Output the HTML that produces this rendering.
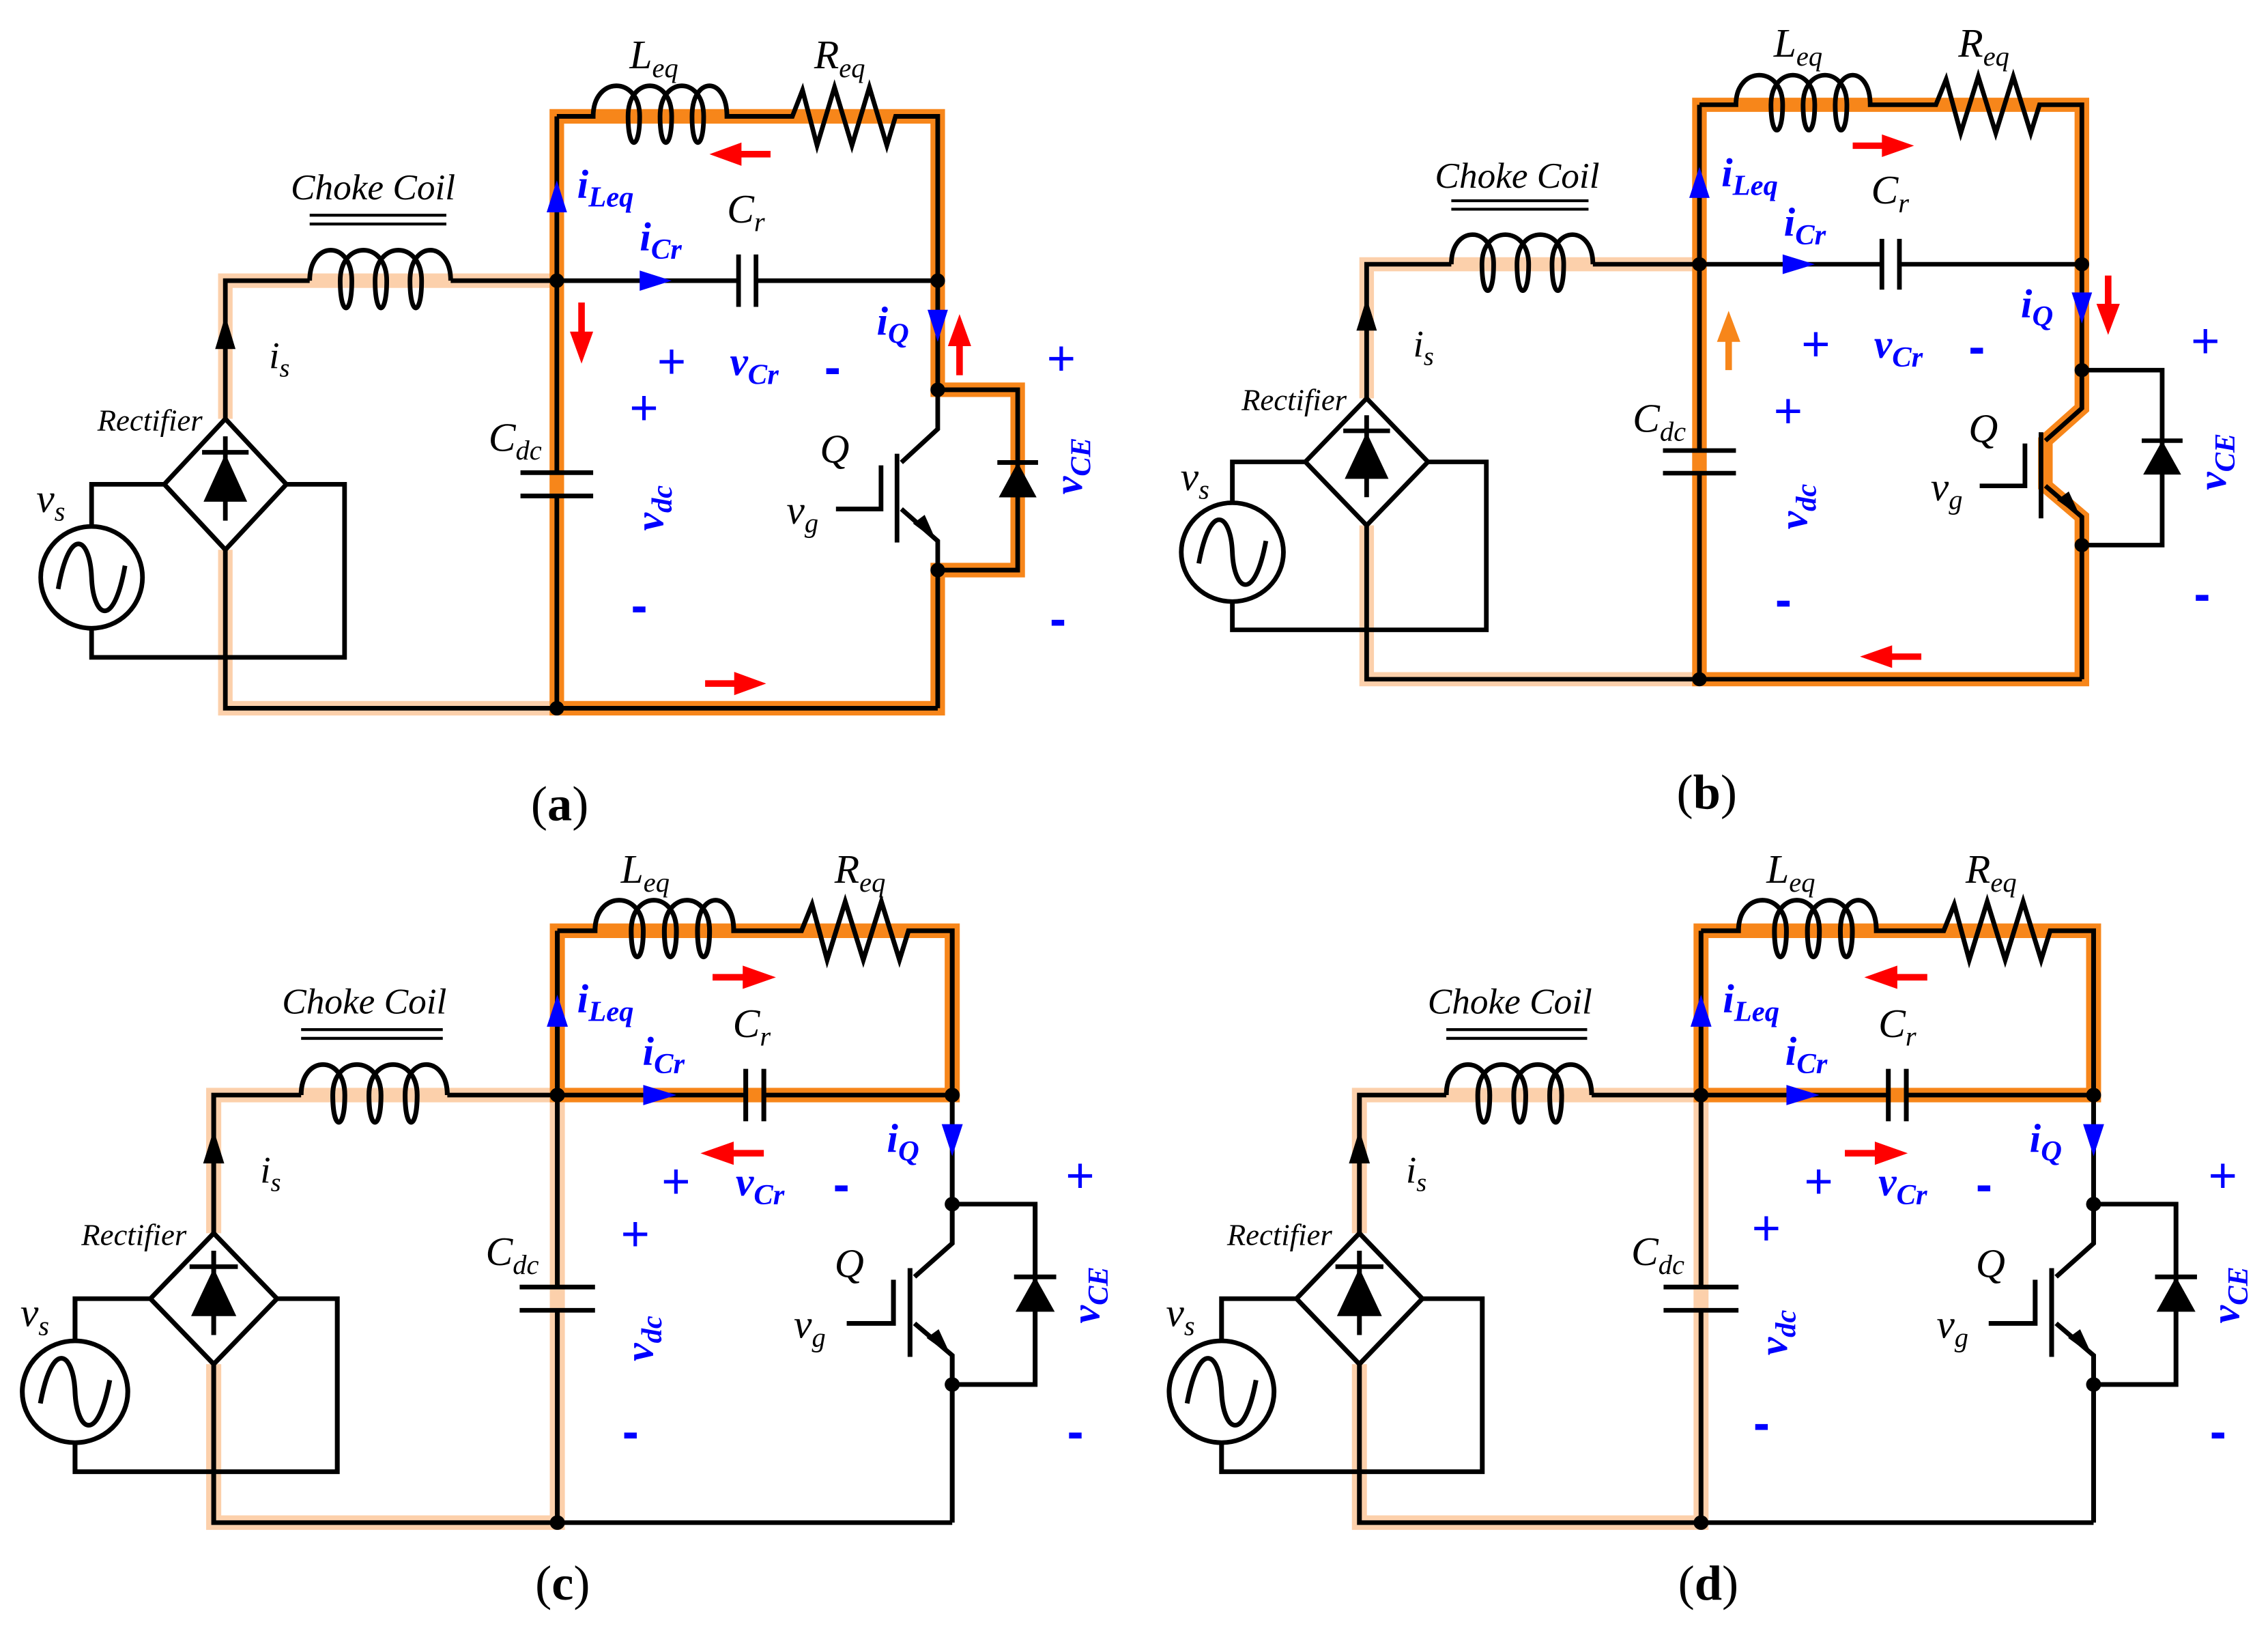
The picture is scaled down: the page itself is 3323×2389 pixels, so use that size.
<!DOCTYPE html>
<html><head><meta charset="utf-8"><style>
html,body{margin:0;padding:0;background:#fff;}
svg{display:block}
text{font-family:"Liberation Serif",serif;}
.it{font-style:italic;fill:#000;}
.bl{font-style:italic;font-weight:bold;fill:#0000ff;}
.pm{font-family:"Liberation Sans",sans-serif;fill:#0000ff;font-size:34px;}
.mn{font-family:"Liberation Sans",sans-serif;fill:#0000ff;font-size:34px;font-weight:bold;}
</style></head><body>
<svg width="3323" height="2389" viewBox="0 0 1560 1121.5" xmlns="http://www.w3.org/2000/svg">
<defs>
<g id="base" fill="none" stroke="#000" stroke-width="3.2" stroke-linejoin="miter">
  <path d="M155,288 V193 H213"/>
  <path d="M213,193 C213,165 242,165 242,193 C242,218 234,218 234,193 C234,165 266,165 266,193 C266,218 258,218 258,193 C258,165 290,165 290,193 C290,218 282,218 282,193 C282,165 310,165 310,193"/>
  <path d="M310,193 H508 M520,193 H645"/>
  <path d="M213,148 H307 M213,154 H307" stroke-width="2"/>
  <path d="M155,378 V487 H645"/>
  <circle cx="63" cy="397" r="35"/>
  <path d="M40,405 C48,360 62,370 63,397 C64,424 78,434 86,389"/>
  <path d="M63,362 V333 H113 M63,432 V452 H237 V333 H197"/>
  <path d="M155,288 L197,333 L155,378 L113,333 Z"/>
  <path d="M155,300 V358 M139,311 H171"/>
  <path d="M383,80 V325 M383,341 V487 M358,325 H408 M358,341 H408"/>
  <path d="M383,80 H408 C408,52 440,52 440,80 C440,104 432,104 432,80 C432,52 462,52 462,80 C462,104 454,104 454,80 C454,52 484,52 484,80 C484,104 476,104 476,80 C476,52 500,52 500,80 H545 L552,62 L562,100 L574,60 L586,100 L598,60 L610,100 L616,80 H645 V295 L620,318"/>
  <path d="M508,175 V211 M520,175 V211"/>
  <path d="M617,312 V373 M575,350 H606 V320 M620,350 L645,372 V487"/>
  <path d="M645,268 H700 V392 H645 M686,318 H714"/>
</g>
<g id="basefill">
  <polygon points="155,312 140,345 170,345" fill="#000"/>
  <polygon points="700,318 687,342 713,342" fill="#000"/>
  <polygon points="644,372 628,360 636,354" fill="#000"/>
  <polygon points="155,217 148,240 162,240" fill="#000"/>
  <circle cx="383" cy="193" r="5" fill="#000"/>
  <circle cx="645" cy="193" r="5" fill="#000"/>
  <circle cx="383" cy="487" r="5" fill="#000"/>
  <circle cx="645" cy="268" r="5" fill="#000"/>
  <circle cx="645" cy="392" r="5" fill="#000"/>
  <polygon points="383,124 376,146 390,146" fill="#0000ff"/>
  <polygon points="462,193 440,186 440,200" fill="#0000ff"/>
  <polygon points="645,235 638,213 652,213" fill="#0000ff"/>
</g>
<g id="ra"><path d="M-20,0 H2" stroke="#ff0000" stroke-width="4.5" fill="none"/><polygon points="0,-8 22,0 0,8" fill="#ff0000"/></g>
</defs>

<!-- (a) -->
<g>
  <path d="M155,288 V193 H383 M155,378 V487 H383" stroke="#fcd0ab" stroke-width="10" fill="none"/>
  <path d="M383,487 V80 H645 V268 H700 V392 H645 V487 Z" stroke="#f7861a" stroke-width="10" fill="none"/>
  <use href="#base"/><use href="#basefill"/>
  <use href="#ra" transform="translate(510,106) rotate(180)"/>
  <use href="#ra" transform="translate(400,228) rotate(90)"/>
  <use href="#ra" transform="translate(660,238) rotate(-90)"/>
  <use href="#ra" transform="translate(505,470)"/>
</g>
<g>
  <text class="it" x="433" y="47" font-size="28">L<tspan font-size="19" dy="6">eq</tspan></text>
  <text class="it" x="560" y="47" font-size="28">R<tspan font-size="19" dy="6">eq</tspan></text>
  <text class="it" x="200" y="137" font-size="25">Choke Coil</text>
  <text class="it" x="185" y="253" font-size="26">i<tspan font-size="18" dy="6">s</tspan></text>
  <text class="it" x="67" y="296" font-size="21">Rectifier</text>
  <text class="it" x="25" y="352" font-size="28">v<tspan font-size="19" dy="6">s</tspan></text>
  <text class="it" x="336" y="310" font-size="28">C<tspan font-size="19" dy="6">dc</tspan></text>
  <text class="it" x="500" y="153" font-size="28">C<tspan font-size="19" dy="6">r</tspan></text>
  <text class="it" x="564" y="318" font-size="28">Q</text>
  <text class="it" x="541" y="360" font-size="28">v<tspan font-size="19" dy="6">g</tspan></text>
  <text class="bl" x="397" y="136" font-size="28">i<tspan font-size="20" dy="6">Leq</tspan></text>
  <text class="bl" x="440" y="172" font-size="28">i<tspan font-size="20" dy="6">Cr</tspan></text>
  <text class="bl" x="603" y="230" font-size="28">i<tspan font-size="20" dy="6">Q</tspan></text>
  <text class="bl" x="502" y="258" font-size="28">v<tspan font-size="20" dy="6">Cr</tspan></text>
  <text class="pm" x="452" y="260">+</text><text class="mn" x="567" y="264">-</text>
  <text class="pm" x="433" y="292">+</text><text class="mn" x="434" y="428">-</text>
  <text class="pm" x="720" y="258">+</text><text class="mn" x="722" y="437">-</text>
  <text class="bl" font-size="28" transform="translate(456,365) rotate(-90)">v<tspan font-size="20" dy="6">dc</tspan></text>
  <text class="bl" font-size="28" transform="translate(744,340) rotate(-90)">v<tspan font-size="20" dy="6">CE</tspan></text>
  <text x="385" y="564" font-size="34" text-anchor="middle">(<tspan font-weight="bold">a</tspan>)</text>
</g>

<!-- (b) -->
<g transform="matrix(1.004,0,0,0.9705,784.4,-5.6)">
  <path d="M155,288 V193 H383 M155,378 V487 H383" stroke="#fcd0ab" stroke-width="10" fill="none"/>
  <path d="M383,487 V80 H645 V295 L620,318 V350 L645,372 V487 Z" stroke="#f7861a" stroke-width="10" fill="none"/>
  <use href="#base"/><use href="#basefill"/>
  <use href="#ra" transform="translate(508,109)"/>
  <g transform="translate(403,248) rotate(-90)"><path d="M-20,0 H2" stroke="#f7861a" stroke-width="4.5"/><polygon points="0,-8 22,0 0,8" fill="#f7861a"/></g>
  <use href="#ra" transform="translate(663,221) rotate(90)"/>
  <use href="#ra" transform="translate(515,471) rotate(180)"/>
</g>
<g transform="translate(787,-8)">
  <text class="it" x="433" y="47" font-size="28">L<tspan font-size="19" dy="6">eq</tspan></text>
  <text class="it" x="560" y="47" font-size="28">R<tspan font-size="19" dy="6">eq</tspan></text>
  <text class="it" x="200" y="137" font-size="25">Choke Coil</text>
  <text class="it" x="185" y="253" font-size="26">i<tspan font-size="18" dy="6">s</tspan></text>
  <text class="it" x="67" y="290" font-size="21">Rectifier</text>
  <text class="it" x="25" y="345" font-size="28">v<tspan font-size="19" dy="6">s</tspan></text>
  <text class="it" x="336" y="305" font-size="28">C<tspan font-size="19" dy="6">dc</tspan></text>
  <text class="it" x="500" y="148" font-size="28">C<tspan font-size="19" dy="6">r</tspan></text>
  <text class="it" x="567" y="312" font-size="28">Q</text>
  <text class="it" x="541" y="352" font-size="28">v<tspan font-size="19" dy="6">g</tspan></text>
  <text class="bl" x="397" y="136" font-size="28">i<tspan font-size="20" dy="6">Leq</tspan></text>
  <text class="bl" x="440" y="170" font-size="28">i<tspan font-size="20" dy="6">Cr</tspan></text>
  <text class="bl" x="603" y="226" font-size="28">i<tspan font-size="20" dy="6">Q</tspan></text>
  <text class="bl" x="502" y="254" font-size="28">v<tspan font-size="20" dy="6">Cr</tspan></text>
  <text class="pm" x="452" y="256">+</text><text class="mn" x="567" y="258">-</text>
  <text class="pm" x="433" y="302">+</text><text class="mn" x="434" y="432">-</text>
  <text class="pm" x="720" y="254">+</text><text class="mn" x="722" y="428">-</text>
  <text class="bl" font-size="28" transform="translate(456,372) rotate(-90)">v<tspan font-size="20" dy="6">dc</tspan></text>
  <text class="bl" font-size="28" transform="translate(744,345) rotate(-90)">v<tspan font-size="20" dy="6">CE</tspan></text>
  <text x="387" y="564" font-size="34" text-anchor="middle">(<tspan font-weight="bold">b</tspan>)</text>
</g>

<!-- (c) -->
<g transform="matrix(1.0367,0,0,1,-13.7,560)">
  <path d="M155,288 V193 H383 V487 H155 V378" stroke="#fcd0ab" stroke-width="10" fill="none"/>
  <path d="M383,193 V80 H645 V193 Z" stroke="#f7861a" stroke-width="10" fill="none"/>
  <use href="#base"/><use href="#basefill"/>
  <use href="#ra" transform="translate(506,112)"/>
  <use href="#ra" transform="translate(500,233) rotate(180)"/>
</g>
<g transform="translate(-6,560)">
  <text class="it" x="433" y="47" font-size="28">L<tspan font-size="19" dy="6">eq</tspan></text>
  <text class="it" x="580" y="47" font-size="28">R<tspan font-size="19" dy="6">eq</tspan></text>
  <text class="it" x="200" y="137" font-size="25">Choke Coil</text>
  <text class="it" x="185" y="253" font-size="26">i<tspan font-size="18" dy="6">s</tspan></text>
  <text class="it" x="62" y="296" font-size="21">Rectifier</text>
  <text class="it" x="20" y="352" font-size="28">v<tspan font-size="19" dy="6">s</tspan></text>
  <text class="it" x="340" y="310" font-size="28">C<tspan font-size="19" dy="6">dc</tspan></text>
  <text class="it" x="510" y="153" font-size="28">C<tspan font-size="19" dy="6">r</tspan></text>
  <text class="it" x="580" y="318" font-size="28">Q</text>
  <text class="it" x="552" y="360" font-size="28">v<tspan font-size="19" dy="6">g</tspan></text>
  <text class="bl" x="403" y="136" font-size="28">i<tspan font-size="20" dy="6">Leq</tspan></text>
  <text class="bl" x="448" y="172" font-size="28">i<tspan font-size="20" dy="6">Cr</tspan></text>
  <text class="bl" x="616" y="232" font-size="28">i<tspan font-size="20" dy="6">Q</tspan></text>
  <text class="bl" x="512" y="262" font-size="28">v<tspan font-size="20" dy="6">Cr</tspan></text>
  <text class="pm" x="461" y="264">+</text><text class="mn" x="579" y="266">-</text>
  <text class="pm" x="433" y="300">+</text><text class="mn" x="434" y="436">-</text>
  <text class="pm" x="739" y="260">+</text><text class="mn" x="740" y="436">-</text>
  <text class="bl" font-size="28" transform="translate(455,376) rotate(-90)">v<tspan font-size="20" dy="6">dc</tspan></text>
  <text class="bl" font-size="28" transform="translate(762,350) rotate(-90)">v<tspan font-size="20" dy="6">CE</tspan></text>
  <text x="393" y="540" font-size="34" text-anchor="middle">(<tspan font-weight="bold">c</tspan>)</text>
</g>

<!-- (d) -->
<g transform="matrix(1.0306,0,0,1,775.3,560)">
  <path d="M155,288 V193 H383 V487 H155 V378" stroke="#fcd0ab" stroke-width="10" fill="none"/>
  <path d="M383,193 V80 H645 V193 Z" stroke="#f7861a" stroke-width="10" fill="none"/>
  <use href="#base"/><use href="#basefill"/>
  <use href="#ra" transform="translate(514,112) rotate(180)"/>
  <use href="#ra" transform="translate(499,233)"/>
</g>
<g transform="translate(782,560)">
  <text class="it" x="433" y="47" font-size="28">L<tspan font-size="19" dy="6">eq</tspan></text>
  <text class="it" x="570" y="47" font-size="28">R<tspan font-size="19" dy="6">eq</tspan></text>
  <text class="it" x="200" y="137" font-size="25">Choke Coil</text>
  <text class="it" x="185" y="253" font-size="26">i<tspan font-size="18" dy="6">s</tspan></text>
  <text class="it" x="62" y="296" font-size="21">Rectifier</text>
  <text class="it" x="20" y="352" font-size="28">v<tspan font-size="19" dy="6">s</tspan></text>
  <text class="it" x="340" y="310" font-size="28">C<tspan font-size="19" dy="6">dc</tspan></text>
  <text class="it" x="510" y="153" font-size="28">C<tspan font-size="19" dy="6">r</tspan></text>
  <text class="it" x="577" y="318" font-size="28">Q</text>
  <text class="it" x="550" y="360" font-size="28">v<tspan font-size="19" dy="6">g</tspan></text>
  <text class="bl" x="403" y="136" font-size="28">i<tspan font-size="20" dy="6">Leq</tspan></text>
  <text class="bl" x="446" y="172" font-size="28">i<tspan font-size="20" dy="6">Cr</tspan></text>
  <text class="bl" x="614" y="232" font-size="28">i<tspan font-size="20" dy="6">Q</tspan></text>
  <text class="bl" x="510" y="262" font-size="28">v<tspan font-size="20" dy="6">Cr</tspan></text>
  <text class="pm" x="459" y="264">+</text><text class="mn" x="577" y="266">-</text>
  <text class="pm" x="423" y="296">+</text><text class="mn" x="424" y="430">-</text>
  <text class="pm" x="737" y="260">+</text><text class="mn" x="738" y="436">-</text>
  <text class="bl" font-size="28" transform="translate(447,372) rotate(-90)">v<tspan font-size="20" dy="6">dc</tspan></text>
  <text class="bl" font-size="28" transform="translate(758,350) rotate(-90)">v<tspan font-size="20" dy="6">CE</tspan></text>
  <text x="393" y="540" font-size="34" text-anchor="middle">(<tspan font-weight="bold">d</tspan>)</text>
</g>
</svg>
</body></html>
